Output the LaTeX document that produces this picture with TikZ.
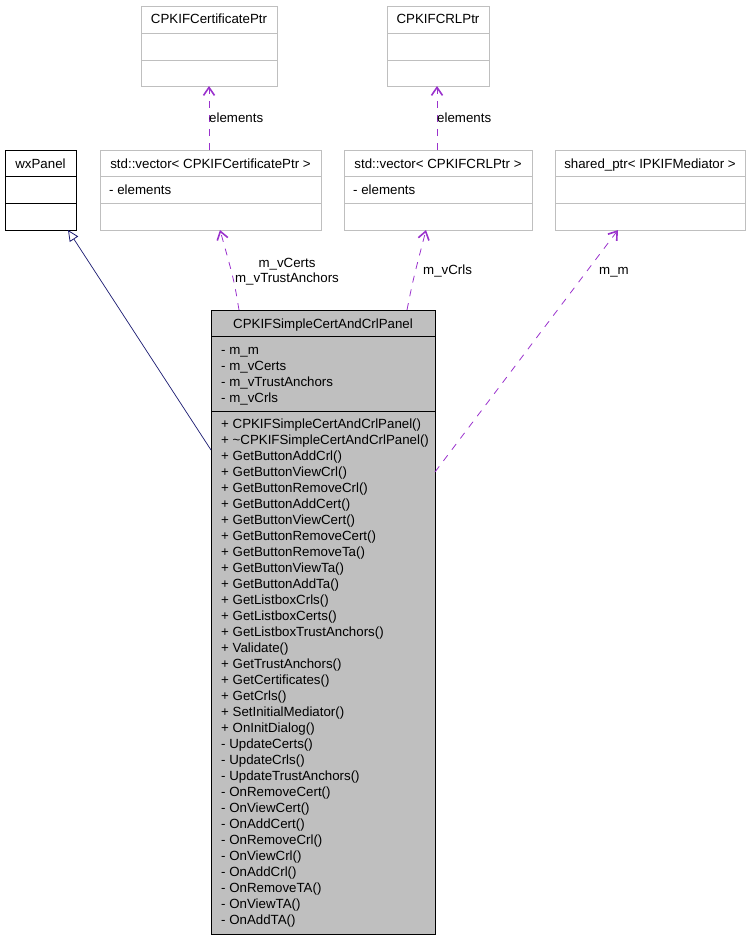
\documentclass[tikz,border=0pt]{standalone}
\usepackage{fontspec}
\setmainfont{Liberation Sans}
\usetikzlibrary{arrows.meta,calc}
\definecolor{edgep}{HTML}{9A32CD}
\definecolor{inh}{HTML}{191970}
\definecolor{gborder}{HTML}{BFBFBF}
\definecolor{mainfill}{HTML}{BFBFBF}
\begin{document}
\begin{tikzpicture}[x=1pt,y=-1pt,
  every node/.style={font=\fontsize{13.3}{16}\selectfont},
  gbox/.style={draw=gborder, line width=0.8pt, inner sep=0pt, outer sep=0pt, anchor=north west},
  bbox/.style={draw=black, line width=0.8pt, inner sep=0pt, outer sep=0pt, anchor=north west},
  lbl/.style={inner sep=0pt, anchor=base west},
  ctr/.style={inner sep=0pt, anchor=base},
  assoc/.style={draw=edgep, line width=0.8pt, dash pattern=on 7pt off 7pt, -{Straight Barb[length=8pt,width=11pt,line width=1.6pt]}},
  inherit/.style={draw=inh, line width=0.7pt, -{Triangle[open,length=11pt,width=10pt,line width=0.8pt]}}
]
\useasboundingbox (0,0) rectangle (749,939);

% top classes
\node[gbox, minimum width=136pt, minimum height=80pt] (cptr) at (141,6) {};
\draw[gborder, line width=0.8pt] ($(cptr.north west)+(0,27)$) -- ($(cptr.north east)+(0,27)$)
  ($(cptr.north west)+(0,54)$) -- ($(cptr.north east)+(0,54)$);
\node[ctr] (cptrt) at ($(cptr.north)+(0,17.5)$) {CPKIFCertificatePtr};

\node[gbox, minimum width=102pt, minimum height=80pt] (crlptr) at (387,6) {};
\draw[gborder, line width=0.8pt] ($(crlptr.north west)+(0,27)$) -- ($(crlptr.north east)+(0,27)$)
  ($(crlptr.north west)+(0,54)$) -- ($(crlptr.north east)+(0,54)$);
\node[ctr] (crlptrt) at ($(crlptr.north)+(0,17.5)$) {CPKIFCRLPtr};

% second row
\node[bbox, minimum width=71pt, minimum height=80pt] (wx) at (5,150) {};
\draw[black, line width=0.8pt] ($(wx.north west)+(0,26)$) -- ($(wx.north east)+(0,26)$)
  ($(wx.north west)+(0,53)$) -- ($(wx.north east)+(0,53)$);
\node[ctr] (wxt) at ($(wx.north)+(0,18)$) {wxPanel};

\node[gbox, minimum width=221pt, minimum height=80pt] (vcert) at (100,150) {};
\draw[gborder, line width=0.8pt] ($(vcert.north west)+(0,26)$) -- ($(vcert.north east)+(0,26)$)
  ($(vcert.north west)+(0,53)$) -- ($(vcert.north east)+(0,53)$);
\node[ctr] (vcertt) at ($(vcert.north)+(0,18)$) {std::vector< CPKIFCertificatePtr >};
\node[lbl] (vcerta) at ($(vcert.north west)+(9,44.5)$) {- elements};

\node[gbox, minimum width=188pt, minimum height=80pt] (vcrl) at (344,150) {};
\draw[gborder, line width=0.8pt] ($(vcrl.north west)+(0,26)$) -- ($(vcrl.north east)+(0,26)$)
  ($(vcrl.north west)+(0,53)$) -- ($(vcrl.north east)+(0,53)$);
\node[ctr] (vcrlt) at ($(vcrl.north)+(0,18)$) {std::vector< CPKIFCRLPtr >};
\node[lbl] (vcrla) at ($(vcrl.north west)+(9,44.5)$) {- elements};

\node[gbox, minimum width=190pt, minimum height=80pt] (shp) at (555,150) {};
\draw[gborder, line width=0.8pt] ($(shp.north west)+(0,26)$) -- ($(shp.north east)+(0,26)$)
  ($(shp.north west)+(0,53)$) -- ($(shp.north east)+(0,53)$);
\node[ctr] (shpt) at ($(shp.north)+(0,18)$) {shared\_ptr< IPKIFMediator >};

% main class
\node[bbox, fill=mainfill, minimum width=224pt, minimum height=624pt] (main) at (211,310) {};
\draw[black, line width=0.8pt] ($(main.north west)+(0,26)$) -- ($(main.north east)+(0,26)$)
  ($(main.north west)+(0,101)$) -- ($(main.north east)+(0,101)$);
\node[ctr] (maint) at ($(main.north)+(0,18)$) {CPKIFSimpleCertAndCrlPanel};
\foreach \t [count=\i] in {- m\_m, - m\_vCerts, - m\_vTrustAnchors, - m\_vCrls}
  \node[lbl] (a\i) at (221,{354.5+16*(\i-1)}) {\t};
\foreach \t [count=\i] in {+ CPKIFSimpleCertAndCrlPanel(), + \textasciitilde CPKIFSimpleCertAndCrlPanel(),
  + GetButtonAddCrl(), + GetButtonViewCrl(), + GetButtonRemoveCrl(), + GetButtonAddCert(),
  + GetButtonViewCert(), + GetButtonRemoveCert(), + GetButtonRemoveTa(), + GetButtonViewTa(),
  + GetButtonAddTa(), + GetListboxCrls(), + GetListboxCerts(), + GetListboxTrustAnchors(),
  + Validate(), + GetTrustAnchors(), + GetCertificates(), + GetCrls(), + SetInitialMediator(),
  + OnInitDialog(), - UpdateCerts(), - UpdateCrls(), - UpdateTrustAnchors(), - OnRemoveCert(),
  - OnViewCert(), - OnAddCert(), - OnRemoveCrl(), - OnViewCrl(), - OnAddCrl(), - OnRemoveTA(),
  - OnViewTA(), - OnAddTA()}
  \node[lbl] (m\i) at (221,{428.5+16*(\i-1)}) {\t};

% connectors
\draw[inherit] ($(main.north west)+(0,140)$) -- ($(wx.south west)+(63,0)$);
\draw[assoc] ($(vcert.north west)+(109,0)$) -- ($(cptr.south west)+(68,0)$);
\node[lbl] (l1) at (209,122) {elements};
\draw[assoc] ($(vcrl.north west)+(93,0)$) -- ($(crlptr.south west)+(50,0)$);
\node[lbl] (l2) at (437,122) {elements};
\draw[assoc] ($(main.north west)+(28,0)$) .. controls (234,280) .. ($(vcert.south west)+(120,0)$);
\node[ctr] (l3) at (287,267) {m\_vCerts};
\node[ctr] (l4) at (287,282) {m\_vTrustAnchors};
\draw[assoc] ($(main.north west)+(196,0)$) .. controls (413,280) .. ($(vcrl.south west)+(82,0)$);
\node[lbl] (l5) at (423,274.5) {m\_vCrls};
\draw[assoc] ($(main.north east)+(0,162)$) -- ($(shp.south west)+(63,0)$);
\node[ctr] (l6) at (614,274.5) {m\_m};
\end{tikzpicture}
\end{document}
